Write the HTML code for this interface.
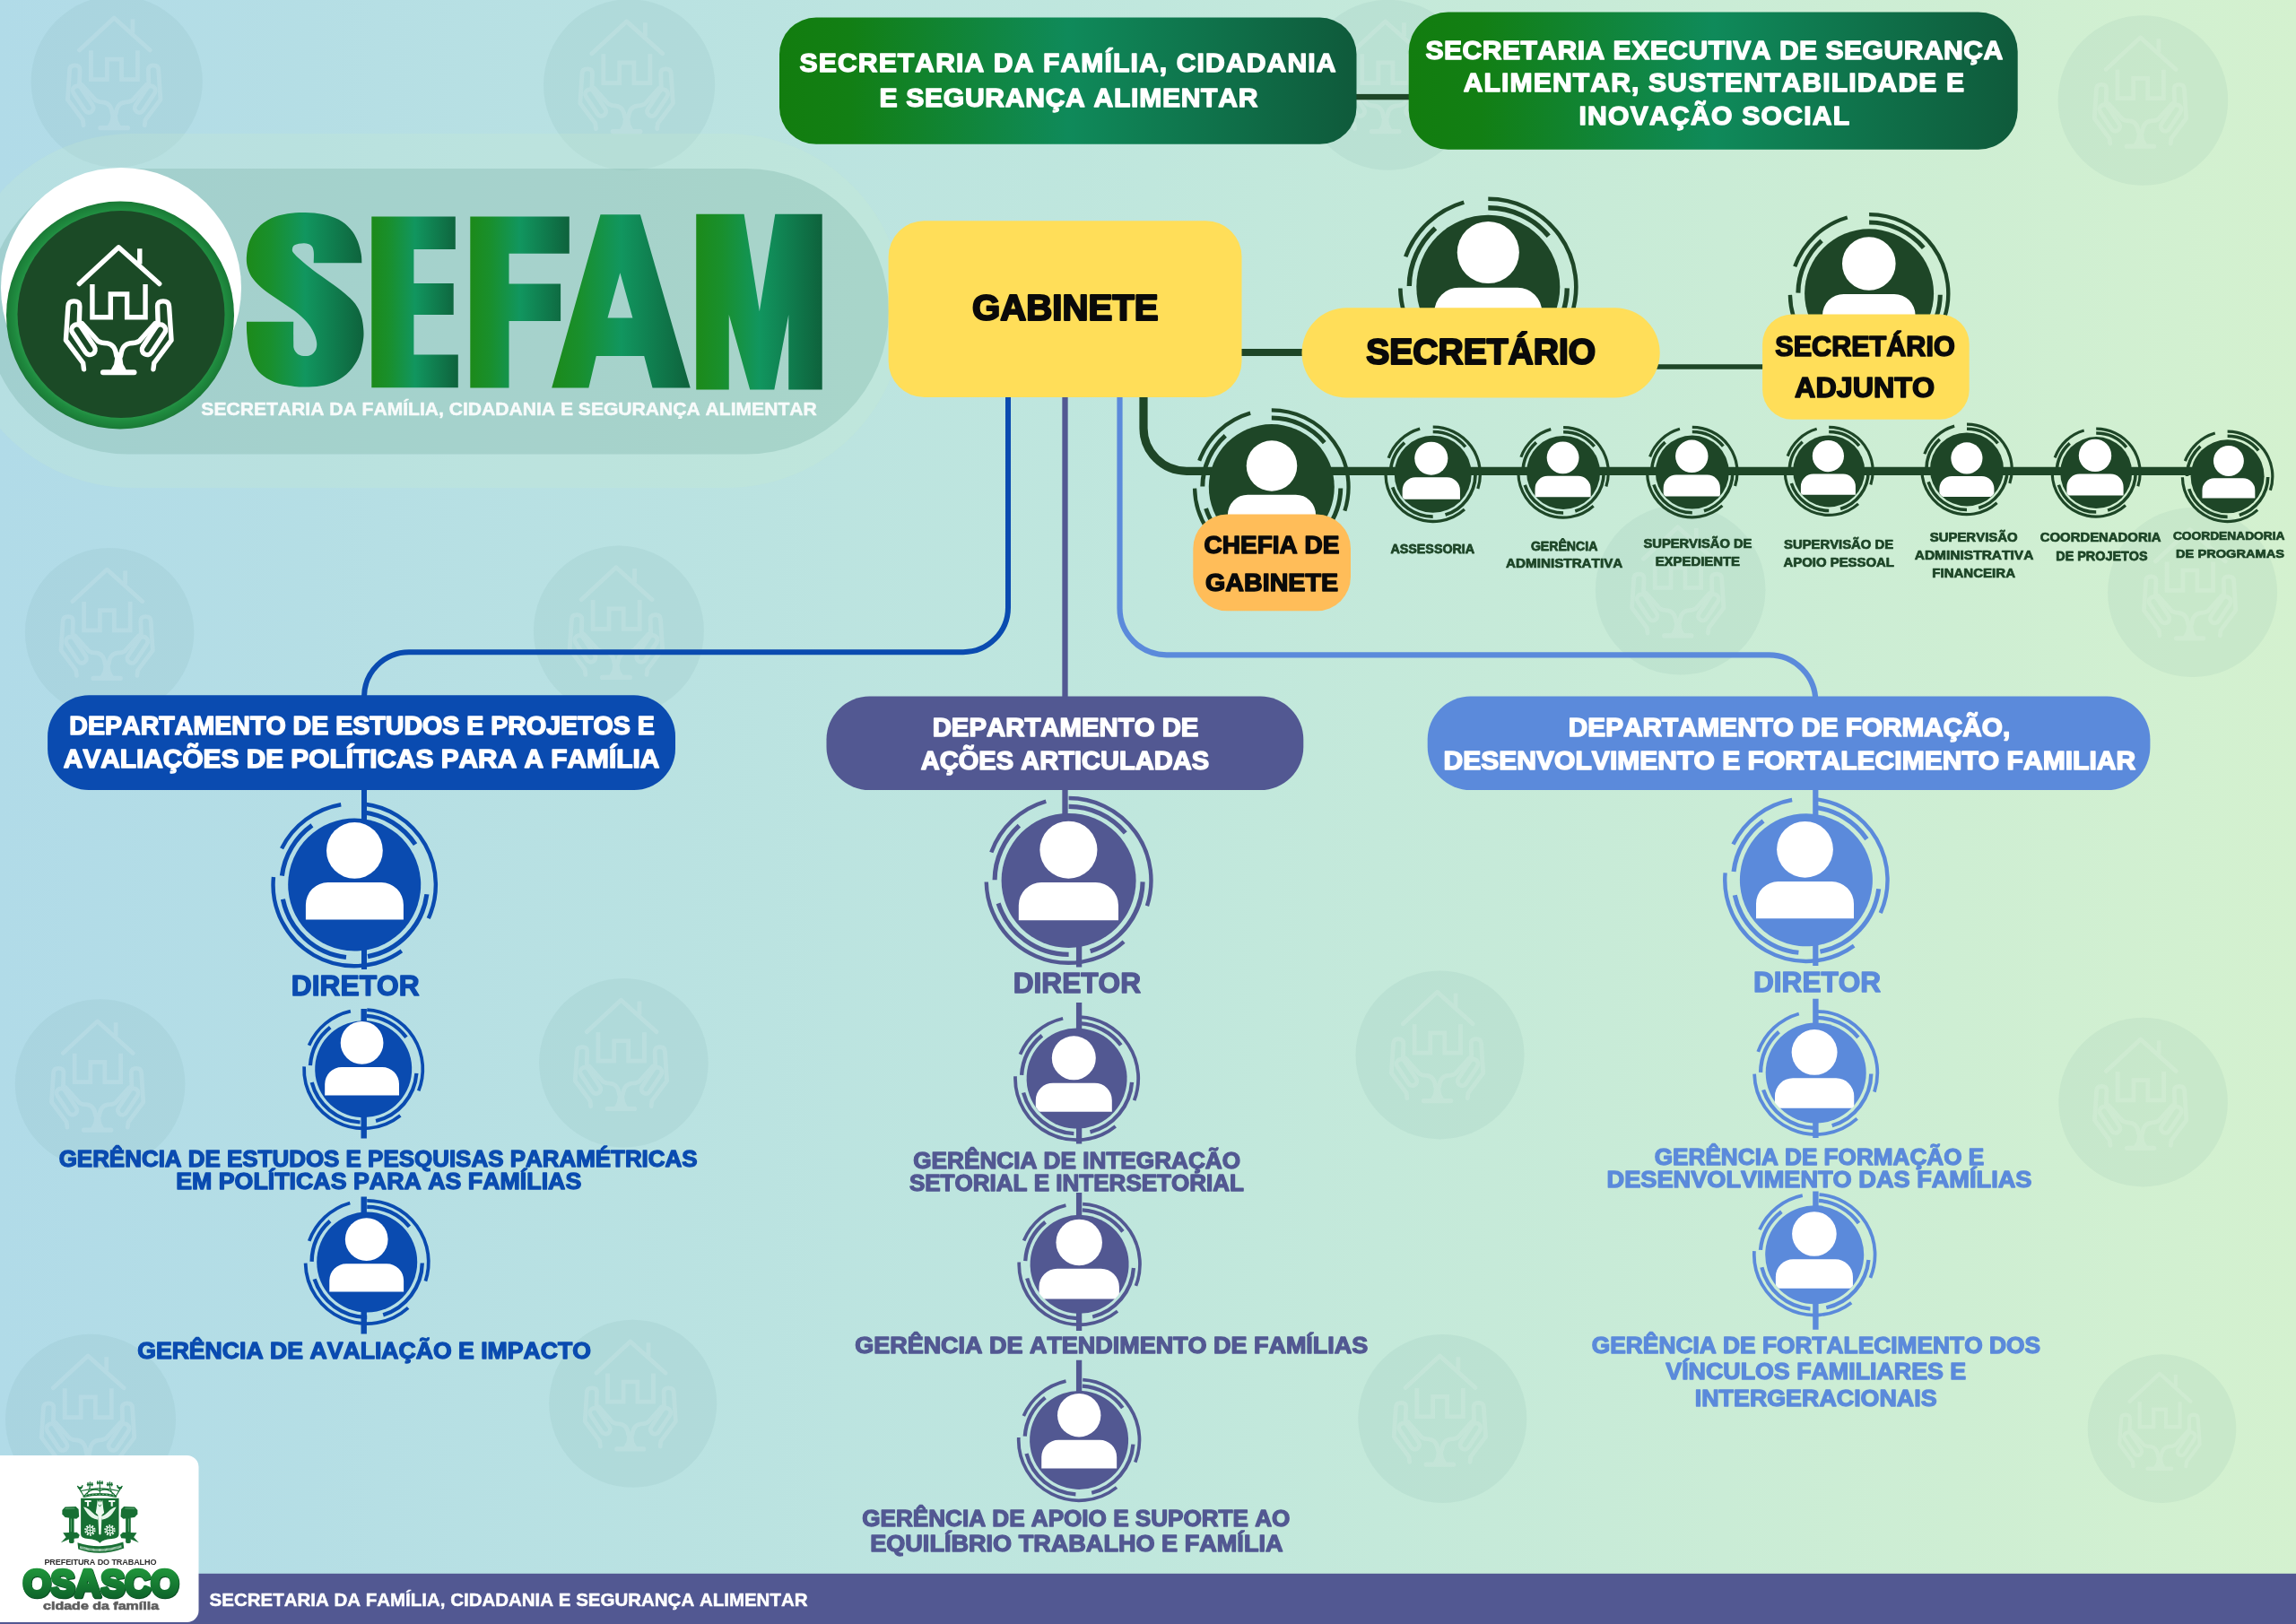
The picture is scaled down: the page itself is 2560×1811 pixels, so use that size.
<!DOCTYPE html>
<html lang="pt"><head><meta charset="utf-8"><title>SEFAM</title>
<style>
html,body{margin:0;padding:0;background:#c0e7dd}
body{width:2560px;height:1811px;overflow:hidden}
svg{display:block}
text{font-family:"Liberation Sans",sans-serif;font-weight:bold;font-kerning:none;white-space:pre}
</style></head><body>
<svg width="2560" height="1811" viewBox="0 0 2560 1811">
<defs>
<filter id="nf" filterUnits="userSpaceOnUse" x="0" y="0" width="2560" height="1811" color-interpolation-filters="sRGB"><feOffset dx="0" dy="0"/></filter>
<linearGradient id="bg" x1="0" x2="1" y1="0" y2="0"><stop offset="0" stop-color="#b1dbe8"/><stop offset="0.5" stop-color="#c0e7dd"/><stop offset="1" stop-color="#d4f1cf"/></linearGradient>
<linearGradient id="hg" x1="0" x2="1" y1="0" y2="0"><stop offset="0" stop-color="#127d0f"/><stop offset="0.12" stop-color="#127f14"/><stop offset="0.5" stop-color="#0f8a5a"/><stop offset="1" stop-color="#0f5a3b"/></linearGradient>
<linearGradient id="lg" x1="0" x2="1" y1="0" y2="0"><stop offset="0" stop-color="#1c8a1a"/><stop offset="0.2" stop-color="#198f2c"/><stop offset="0.5" stop-color="#11965f"/><stop offset="1" stop-color="#0e623c"/></linearGradient>
<linearGradient id="og" x1="0" x2="0" y1="0" y2="1"><stop offset="0" stop-color="#23a33f"/><stop offset="1" stop-color="#0b5a27"/></linearGradient>
<radialGradient id="rim" cx="0.5" cy="0.5" r="0.5"><stop offset="0.88" stop-color="#2b9a4c"/><stop offset="0.93" stop-color="#1f8b3f"/><stop offset="1" stop-color="#1a7a36"/></radialGradient>
<g id="fr"><circle r="100"/><g fill="none" stroke="currentColor"><path style="stroke-width:var(--wa)" d="M0 -122.5A122.5 122.5 0 0 1 116.5 37.85M81.97 91.04A122.5 122.5 0 0 1 -122.48 2.14M-115.11 -41.9A122.5 122.5 0 0 1 -33.77 -117.75"/><path style="stroke-width:var(--wb)" d="M0 -110A110 110 0 0 1 84.26 -70.71M109.98 1.92A110 110 0 0 1 32.16 105.19M0 110A110 110 0 0 1 -104.62 33.99M-110 -0.96A110 110 0 0 1 -73.6 -81.75"/></g></g>
<g id="pe" fill="#fff"><circle r="31.4"/><path d="M-54.5 77V60.5A24.8 24.8 0 0 1 -29.7 35.7H29.7A24.8 24.8 0 0 1 54.5 60.5V77Z"/></g>
<g id="ic" fill="none" stroke="currentColor" stroke-width="5.4" stroke-linecap="round" stroke-linejoin="round"><path d="M-43.94 -33.47 0.03 -74.3 45.56 -33.47"/><path stroke-linecap="butt" d="M23.58 -72.73 23.58 -55.46"/><path stroke-linecap="butt" stroke-linejoin="miter" d="M-29.28 -32.95 -29.28 3.69 -8.87 3.69 -8.87 -21.96 9.45 -21.96 9.45 3.69 29.86 3.69 29.86 -32.95"/><path d="M-38.7 61.78 L-39.54 54.98 L-58.8 29.33 L-56.29 -8.35 Q-55.97 -14.11 -49.69 -14.11 Q-43.1 -14.11 -43.31 -8.35 L-43.94 11.02"/><path d="M-41.74 14.57 L-27.08 36.56 A5.8 5.8 0 0 1 -36.71 43.05 L-51.37 21.06 A5.8 5.8 0 0 1 -41.74 14.57 Z"/><path d="M-40.8 10.49 L-23 30.38 Q-19.34 32.68 -13.06 32.68 Q-3.64 34.04 -2.27 47.13"/><path d="M38.76 61.78 L39.6 54.98 L58.86 29.33 L56.35 -8.35 Q56.03 -14.11 49.75 -14.11 Q43.16 -14.11 43.37 -8.35 L43.99 11.02"/><path d="M41.8 14.57 L27.14 36.56 A5.8 5.8 0 0 0 36.77 43.05 L51.43 21.06 A5.8 5.8 0 0 0 41.8 14.57 Z"/><path d="M40.85 10.49 L23.06 30.38 Q19.39 32.68 13.11 32.68 Q3.69 34.04 2.33 47.13"/><path fill="currentColor" stroke-width="2" d="M-2.27 43.99 2.33 43.99 4.22 56.55 7.36 62.31 -7.3 62.31 -4.16 56.55 Z"/><path stroke-width="6" d="M-17.24 65.13 17.3 65.13"/></g>
</defs>
<g filter="url(#nf)">
<rect width="2560" height="1811" fill="url(#bg)"/>
<g>
<g transform="translate(130.2 90.9)"><circle r="95.6" fill="#3d7f78" fill-opacity="0.068"/><g transform="translate(-3.02 -5.53) scale(0.88)" color="#ffffff" opacity="0.13"><use href="#ic"/></g></g>
<g transform="translate(701.6 94.8)"><circle r="95.6" fill="#3d7f78" fill-opacity="0.068"/><g transform="translate(-3.02 -5.53) scale(0.88)" color="#ffffff" opacity="0.13"><use href="#ic"/></g></g>
<g transform="translate(1547.6 94.8)"><circle r="95" fill="#3d7f78" fill-opacity="0.068"/><g transform="translate(-3 -5.5) scale(0.88)" color="#ffffff" opacity="0.13"><use href="#ic"/></g></g>
<g transform="translate(2389.4 112)"><circle r="94.8" fill="#3d7f78" fill-opacity="0.068"/><g transform="translate(-2.99 -5.49) scale(0.87)" color="#ffffff" opacity="0.13"><use href="#ic"/></g></g>
<g transform="translate(122.1 705.2)"><circle r="94.2" fill="#3d7f78" fill-opacity="0.068"/><g transform="translate(-2.97 -5.45) scale(0.87)" color="#ffffff" opacity="0.13"><use href="#ic"/></g></g>
<g transform="translate(689.9 703.6)"><circle r="95" fill="#3d7f78" fill-opacity="0.068"/><g transform="translate(-3 -5.5) scale(0.88)" color="#ffffff" opacity="0.13"><use href="#ic"/></g></g>
<g transform="translate(1873.7 657.8)"><circle r="94.8" fill="#3d7f78" fill-opacity="0.068"/><g transform="translate(-2.99 -5.49) scale(0.87)" color="#ffffff" opacity="0.13"><use href="#ic"/></g></g>
<g transform="translate(2444.6 660.6)"><circle r="94.5" fill="#3d7f78" fill-opacity="0.068"/><g transform="translate(-2.98 -5.47) scale(0.87)" color="#ffffff" opacity="0.13"><use href="#ic"/></g></g>
<g transform="translate(111.6 1209)"><circle r="94.8" fill="#3d7f78" fill-opacity="0.068"/><g transform="translate(-2.99 -5.49) scale(0.87)" color="#ffffff" opacity="0.13"><use href="#ic"/></g></g>
<g transform="translate(695.4 1185.3)"><circle r="94.3" fill="#3d7f78" fill-opacity="0.068"/><g transform="translate(-2.98 -5.46) scale(0.87)" color="#ffffff" opacity="0.13"><use href="#ic"/></g></g>
<g transform="translate(1605.5 1176.4)"><circle r="94" fill="#3d7f78" fill-opacity="0.068"/><g transform="translate(-2.97 -5.44) scale(0.87)" color="#ffffff" opacity="0.13"><use href="#ic"/></g></g>
<g transform="translate(2389.6 1229.1)"><circle r="94.3" fill="#3d7f78" fill-opacity="0.068"/><g transform="translate(-2.98 -5.46) scale(0.87)" color="#ffffff" opacity="0.13"><use href="#ic"/></g></g>
<g transform="translate(101 1582.8)"><circle r="95" fill="#3d7f78" fill-opacity="0.068"/><g transform="translate(-3 -5.5) scale(0.88)" color="#ffffff" opacity="0.13"><use href="#ic"/></g></g>
<g transform="translate(705.7 1565.3)"><circle r="93.5" fill="#3d7f78" fill-opacity="0.068"/><g transform="translate(-2.95 -5.41) scale(0.86)" color="#ffffff" opacity="0.13"><use href="#ic"/></g></g>
<g transform="translate(1608.3 1582)"><circle r="94" fill="#3d7f78" fill-opacity="0.068"/><g transform="translate(-2.97 -5.44) scale(0.87)" color="#ffffff" opacity="0.13"><use href="#ic"/></g></g>
<g transform="translate(2410.5 1593.1)"><circle r="82.8" fill="#3d7f78" fill-opacity="0.068"/><g transform="translate(-2.61 -4.79) scale(0.76)" color="#ffffff" opacity="0.13"><use href="#ic"/></g></g>
</g>
<rect x="-50" y="149" width="1058" height="395" rx="197.5" fill="#c8ecd0" fill-opacity="0.25"/>
<rect x="-16" y="188" width="1007" height="318.5" rx="159.2" fill="#6da79b" fill-opacity="0.27"/>
<circle cx="135" cy="321" r="134" fill="#fff"/>
<circle cx="134" cy="351.5" r="127" fill="url(#rim)"/>
<circle cx="135" cy="350.5" r="115.5" fill="#1b4a26"/>
<g transform="translate(135 350)" color="#fff"><g transform="translate(-2.8 0)"><use href="#ic"/></g></g>
<path d="M403.36 293.18C403.25 291.53 403.47 287.34 402.69 283.25C401.92 279.17 400.71 273.33 398.72 268.69C396.74 264.06 394.31 259.42 390.78 255.45C387.25 251.48 382.61 247.62 377.54 244.86C372.46 242.1 366.5 240.23 360.33 238.9C354.15 237.58 347.09 237.03 340.47 236.92C333.85 236.81 327.01 237.14 320.61 238.24C314.21 239.34 307.59 240.89 302.07 243.54C296.55 246.18 291.48 249.93 287.51 254.13C283.54 258.32 280.34 263.4 278.24 268.69C276.14 273.99 275.26 280.83 274.93 285.9C274.6 290.98 275.04 294.95 276.25 299.14C277.47 303.34 279.23 307.09 282.21 311.06C285.19 315.03 289.27 319 294.13 322.97C298.98 326.95 305.6 330.92 311.34 334.89C317.08 338.86 323.48 342.83 328.55 346.81C333.63 350.78 338.26 354.75 341.79 358.72C345.32 362.69 347.86 366.89 349.73 370.64C351.61 374.39 352.6 378.14 353.04 381.23C353.49 384.32 353.27 386.86 352.38 389.17C351.5 391.49 349.73 393.81 347.75 395.13C345.76 396.46 343 397.12 340.47 397.12C337.93 397.12 334.62 396.46 332.52 395.13C330.43 393.81 328.77 391.49 327.89 389.17C327.01 386.86 327.34 386.3 327.23 381.23C327.12 376.15 327.23 362.47 327.23 358.72L274.93 358.72C275 361.15 274.89 367.77 275.33 373.29C275.77 378.8 276.21 386.08 277.58 391.82C278.95 397.56 280.78 403.07 283.54 407.71C286.29 412.34 289.71 416.31 294.13 419.62C298.54 422.93 304.28 425.69 310.02 427.57C315.75 429.44 323.48 430.22 328.55 430.88C333.63 431.54 335.61 431.65 340.47 431.54C345.32 431.43 351.94 431.32 357.68 430.22C363.42 429.11 369.59 427.57 374.89 424.92C380.19 422.27 385.26 418.74 389.45 414.33C393.65 409.92 397.51 403.96 400.05 398.44C402.58 392.92 403.8 386.3 404.68 381.23C405.56 376.15 405.67 372.84 405.34 367.99C405.01 363.13 404.24 356.96 402.69 352.1C401.15 347.25 399.16 343.05 396.07 338.86C392.98 334.67 388.79 330.92 384.16 326.95C379.52 322.97 374.01 319.22 368.27 315.03C362.53 310.84 355.25 305.98 349.73 301.79C344.22 297.6 338.92 293.18 335.17 289.87C331.42 286.56 328.77 283.92 327.23 281.93C325.68 279.95 325.68 279.39 325.9 277.96C326.12 276.52 326.34 274.43 328.55 273.33C330.76 272.22 336.05 271.23 339.14 271.34C342.23 271.45 345.32 272.44 347.09 273.99C348.85 275.53 349.29 277.41 349.73 280.61C350.18 283.81 349.73 291.09 349.73 293.18Z" fill="url(#lg)"/>
<path d="M414.3 241.5L507.8 241.5L507.8 278L461.4 278L461.4 316L505.7 316L505.7 351L461.4 351L461.4 395.5L510.8 395.5L510.8 432.3L414.3 432.3Z" fill="url(#lg)"/>
<path d="M524.3 241.5L634.8 241.5L634.8 282.7L567.5 282.7L567.5 316.4L625.1 316.4L625.1 358L567.5 358L567.5 432.6L524.3 432.6Z" fill="url(#lg)"/>
<path d="M615.2 432.6L669.5 239.3L713.9 239.3L769.7 432.6L727.5 432.6L718.2 397L664.8 397L656.4 432.6ZM691.4 304.3L705.4 354.5L677.5 354.5Z" fill="url(#lg)" fill-rule="evenodd"/>
<path d="M776.24 238.73L829.62 238.73L846.85 347.35L864.27 238.73L916.71 238.73L916.71 434.44L879.25 434.44L879.25 351.1L863.33 434.44L836.17 434.44L812.76 351.1L812.76 434.44L776.24 434.44Z" fill="url(#lg)"/>
<text transform="matrix(0.2110 0 0 0.2109 224.35 462.65)" font-size="100" fill="#fff" stroke="#fff" stroke-width="0.5" stroke-linejoin="round" vector-effect="non-scaling-stroke" opacity="0.93">SECRETARIA DA FAMÍLIA, CIDADANIA E SEGURANÇA ALIMENTAR</text>
<rect x="1505" y="104.9" width="75" height="6.4" fill="#1e4627"/>
<rect x="869" y="19.6" width="643.5" height="141.2" rx="41" fill="url(#hg)"/>
<rect x="1570.7" y="13.5" width="679" height="153.3" rx="44" fill="url(#hg)"/>
<text transform="matrix(0.3010 0 0 0.2895 891.6 80.1)" font-size="100" fill="#fff" stroke="#fff" stroke-width="1.4" stroke-linejoin="round" vector-effect="non-scaling-stroke" letter-spacing="3.71">SECRETARIA DA FAMÍLIA, CIDADANIA</text>
<text transform="matrix(0.3010 0 0 0.2895 980.4 119)" font-size="100" fill="#fff" stroke="#fff" stroke-width="1.4" stroke-linejoin="round" vector-effect="non-scaling-stroke" letter-spacing="2.35">E SEGURANÇA ALIMENTAR</text>
<text transform="matrix(0.3010 0 0 0.2895 1589.4 65.5)" font-size="100" fill="#fff" stroke="#fff" stroke-width="1.4" stroke-linejoin="round" vector-effect="non-scaling-stroke" letter-spacing="1.59">SECRETARIA EXECUTIVA DE SEGURANÇA</text>
<text transform="matrix(0.3010 0 0 0.2895 1631.7 102.1)" font-size="100" fill="#fff" stroke="#fff" stroke-width="1.4" stroke-linejoin="round" vector-effect="non-scaling-stroke" letter-spacing="3.78">ALIMENTAR, SUSTENTABILIDADE E</text>
<text transform="matrix(0.3010 0 0 0.2895 1760.4 138.6)" font-size="100" fill="#fff" stroke="#fff" stroke-width="1.4" stroke-linejoin="round" vector-effect="non-scaling-stroke" letter-spacing="4.17">INOVAÇÃO SOCIAL</text>
<path d="M1124 440V677A50 50 0 0 1 1074 727.2H456A50 50 0 0 0 406 777.2V1081" fill="none" stroke="#0a4bb0" stroke-width="6"/>
<path d="M405.7 1125V1269.5M405.7 1334.4V1487.6" fill="none" stroke="#0a4bb0" stroke-width="6.4"/>
<path d="M1187.5 440V910" fill="none" stroke="#525892" stroke-width="6.3"/>
<path d="M1203.1 1040V1078.4M1203.1 1118V1275.5M1203.1 1330V1484M1203.1 1516.8V1560" fill="none" stroke="#525892" stroke-width="6.3"/>
<path d="M1248.5 440V678A52 52 0 0 0 1300.5 730.3H1972.3A52 52 0 0 1 2024.3 782.3V1077" fill="none" stroke="#5b8adb" stroke-width="6.2"/>
<path d="M2024.4 1113.7V1269M2024.4 1328.5V1482.8" fill="none" stroke="#5b8adb" stroke-width="6.4"/>
<path d="M1275 440V477.5A48 48 0 0 0 1323 525.3H2450" fill="none" stroke="#1e4627" stroke-width="9.2"/>
<path d="M1380 393H1460" fill="none" stroke="#1e4627" stroke-width="8.2"/>
<path d="M1845 409H1970" fill="none" stroke="#1e4627" stroke-width="5.7"/>
<g color="#1e4627" fill="#1e4627" style="--wa:5.76;--wb:6.71"><g transform="translate(1659.3 319.8) rotate(0) scale(0.8)"><use href="#fr"/></g>
<clipPath id="c1"><circle cx="1659.3" cy="319.8" r="79.8"/></clipPath>
<g clip-path="url(#c1)"><g transform="translate(1659.3 281.5) scale(1.1)"><use href="#pe"/></g></g></g>
<g color="#1e4627" fill="#1e4627" style="--wa:6.05;--wb:7.01"><g transform="translate(2084.1 327.3) rotate(0) scale(0.72)"><use href="#fr"/></g>
<clipPath id="c2"><circle cx="2084.1" cy="327.3" r="71.6"/></clipPath>
<g clip-path="url(#c2)"><g transform="translate(2083.8 294) scale(0.95)"><use href="#pe"/></g></g></g>
<g color="#1e4627" fill="#1e4627" style="--wa:6.13;--wb:7.09"><g transform="translate(1417.8 543.1) rotate(0) scale(0.7)"><use href="#fr"/></g>
<clipPath id="c3"><circle cx="1417.8" cy="543.1" r="69.6"/></clipPath>
<g clip-path="url(#c3)"><g transform="translate(1418 519.5) scale(0.9)"><use href="#pe"/></g></g></g>
<g color="#1e4627" fill="#1e4627" style="--wa:7.64;--wb:8.62"><g transform="translate(1597.7 528.8) rotate(0) scale(0.43)"><use href="#fr"/></g>
<clipPath id="c4"><circle cx="1597.7" cy="528.8" r="42.7"/></clipPath>
<g clip-path="url(#c4)"><g transform="translate(1595.8 511.2) scale(0.59)"><use href="#pe"/></g></g></g>
<g color="#1e4627" fill="#1e4627" style="--wa:7.76;--wb:8.74"><g transform="translate(1743.1 526.9) rotate(0) scale(0.41)"><use href="#fr"/></g>
<clipPath id="c5"><circle cx="1743.1" cy="526.9" r="41.2"/></clipPath>
<g clip-path="url(#c5)"><g transform="translate(1742.6 510.4) scale(0.57)"><use href="#pe"/></g></g></g>
<g color="#1e4627" fill="#1e4627" style="--wa:7.82;--wb:8.8"><g transform="translate(1886.8 526.6) rotate(0) scale(0.41)"><use href="#fr"/></g>
<clipPath id="c6"><circle cx="1886.8" cy="526.6" r="40.5"/></clipPath>
<g clip-path="url(#c6)"><g transform="translate(1886.3 508.8) scale(0.58)"><use href="#pe"/></g></g></g>
<g color="#1e4627" fill="#1e4627" style="--wa:7.87;--wb:8.85"><g transform="translate(2039.2 525.4) rotate(0) scale(0.4)"><use href="#fr"/></g>
<clipPath id="c7"><circle cx="2039.2" cy="525.4" r="39.9"/></clipPath>
<g clip-path="url(#c7)"><g transform="translate(2038.4 508.6) scale(0.56)"><use href="#pe"/></g></g></g>
<g color="#1e4627" fill="#1e4627" style="--wa:7.79;--wb:8.77"><g transform="translate(2193 523.4) rotate(0) scale(0.41)"><use href="#fr"/></g>
<clipPath id="c8"><circle cx="2193" cy="523.4" r="40.9"/></clipPath>
<g clip-path="url(#c8)"><g transform="translate(2192.9 510.9) scale(0.56)"><use href="#pe"/></g></g></g>
<g color="#1e4627" fill="#1e4627" style="--wa:7.87;--wb:8.84"><g transform="translate(2337.2 527.1) rotate(0) scale(0.4)"><use href="#fr"/></g>
<clipPath id="c9"><circle cx="2337.2" cy="527.1" r="40"/></clipPath>
<g clip-path="url(#c9)"><g transform="translate(2336 507.9) scale(0.58)"><use href="#pe"/></g></g></g>
<g color="#1e4627" fill="#1e4627" style="--wa:7.82;--wb:8.8"><g transform="translate(2483.6 531.3) rotate(0) scale(0.41)"><use href="#fr"/></g>
<clipPath id="c10"><circle cx="2483.6" cy="531.3" r="40.5"/></clipPath>
<g clip-path="url(#c10)"><g transform="translate(2484.9 514) scale(0.54)"><use href="#pe"/></g></g></g>
<g color="#0a4bb0" fill="#0a4bb0" style="--wa:5.98;--wb:6.93"><g transform="translate(395.2 986.6) rotate(6.5) scale(0.74)"><use href="#fr"/></g>
<clipPath id="c11"><circle cx="395.2" cy="986.6" r="73.6"/></clipPath>
<g clip-path="url(#c11)"><g transform="translate(395.4 948.4) scale(1)"><use href="#pe"/></g></g></g>
<g color="#0a4bb0" fill="#0a4bb0" style="--wa:6.86;--wb:7.83"><g transform="translate(405.2 1192.2) rotate(3.5) scale(0.54)"><use href="#fr"/></g>
<clipPath id="c12"><circle cx="405.2" cy="1192.2" r="54.2"/></clipPath>
<g clip-path="url(#c12)"><g transform="translate(403.6 1162.9) scale(0.76)"><use href="#pe"/></g></g></g>
<g color="#0a4bb0" fill="#0a4bb0" style="--wa:6.77;--wb:7.74"><g transform="translate(409.2 1407.4) rotate(0) scale(0.56)"><use href="#fr"/></g>
<clipPath id="c13"><circle cx="409.2" cy="1407.4" r="55.9"/></clipPath>
<g clip-path="url(#c13)"><g transform="translate(408.7 1382.1) scale(0.76)"><use href="#pe"/></g></g></g>
<g color="#525892" fill="#525892" style="--wa:5.91;--wb:6.86"><g transform="translate(1191.6 981.9) rotate(0) scale(0.75)"><use href="#fr"/></g>
<clipPath id="c14"><circle cx="1191.6" cy="981.9" r="75.4"/></clipPath>
<g clip-path="url(#c14)"><g transform="translate(1191.4 947.7) scale(1.02)"><use href="#pe"/></g></g></g>
<g color="#525892" fill="#525892" style="--wa:6.78;--wb:7.75"><g transform="translate(1200.6 1202.6) rotate(3) scale(0.56)"><use href="#fr"/></g>
<clipPath id="c15"><circle cx="1200.6" cy="1202.6" r="55.7"/></clipPath>
<g clip-path="url(#c15)"><g transform="translate(1197.3 1179.8) scale(0.78)"><use href="#pe"/></g></g></g>
<g color="#525892" fill="#525892" style="--wa:6.79;--wb:7.76"><g transform="translate(1203.6 1409.8) rotate(3) scale(0.55)"><use href="#fr"/></g>
<clipPath id="c16"><circle cx="1203.6" cy="1409.8" r="55.4"/></clipPath>
<g clip-path="url(#c16)"><g transform="translate(1203.2 1385.4) scale(0.82)"><use href="#pe"/></g></g></g>
<g color="#525892" fill="#525892" style="--wa:6.79;--wb:7.76"><g transform="translate(1203.1 1605.9) rotate(3.5) scale(0.55)"><use href="#fr"/></g>
<clipPath id="c17"><circle cx="1203.1" cy="1605.9" r="55.4"/></clipPath>
<g clip-path="url(#c17)"><g transform="translate(1203.2 1578.2) scale(0.77)"><use href="#pe"/></g></g></g>
<g color="#5b8adb" fill="#5b8adb" style="--wa:5.95;--wb:6.9"><g transform="translate(2013.9 981.3) rotate(6) scale(0.74)"><use href="#fr"/></g>
<clipPath id="c18"><circle cx="2013.9" cy="981.3" r="74.3"/></clipPath>
<g clip-path="url(#c18)"><g transform="translate(2012.5 947.3) scale(1)"><use href="#pe"/></g></g></g>
<g color="#5b8adb" fill="#5b8adb" style="--wa:6.73;--wb:7.7"><g transform="translate(2024.7 1196.4) rotate(0) scale(0.56)"><use href="#fr"/></g>
<clipPath id="c19"><circle cx="2024.7" cy="1196.4" r="56.5"/></clipPath>
<g clip-path="url(#c19)"><g transform="translate(2023.1 1173.4) scale(0.81)"><use href="#pe"/></g></g></g>
<g color="#5b8adb" fill="#5b8adb" style="--wa:6.82;--wb:7.79"><g transform="translate(2023.2 1399.2) rotate(4.5) scale(0.55)"><use href="#fr"/></g>
<clipPath id="c20"><circle cx="2023.2" cy="1399.2" r="55"/></clipPath>
<g clip-path="url(#c20)"><g transform="translate(2022.9 1376) scale(0.79)"><use href="#pe"/></g></g></g>
<rect x="990.6" y="246.3" width="393.9" height="196.7" rx="40" fill="#ffde59"/>
<rect x="1451.5" y="343.3" width="399.2" height="100.3" rx="50" fill="#ffde59"/>
<rect x="1965.1" y="350.4" width="230.6" height="117.3" rx="33" fill="#ffde59"/>
<rect x="1330.3" y="573.5" width="175.7" height="107.8" rx="38" fill="#ffbd59"/>
<rect x="53.1" y="775.2" width="699.9" height="105.7" rx="46" fill="#0a4bb0"/>
<rect x="921.5" y="776.6" width="531.8" height="104.5" rx="48" fill="#525892"/>
<rect x="1591.7" y="776.6" width="805.7" height="104.5" rx="48" fill="#5b8adb"/>
<text transform="matrix(0.4021 0 0 0.4073 1083.9 357.2)" font-size="100" fill="#0a0a0a" stroke="#0a0a0a" stroke-width="2.2" stroke-linejoin="round" vector-effect="non-scaling-stroke">GABINETE</text>
<text transform="matrix(0.3907 0 0 0.4073 1523.2 406.4)" font-size="100" fill="#0a0a0a" stroke="#0a0a0a" stroke-width="2.2" stroke-linejoin="round" vector-effect="non-scaling-stroke">SECRETÁRIO</text>
<text transform="matrix(0.3058 0 0 0.3127 1979.3 397.2)" font-size="100" fill="#0a0a0a" stroke="#0a0a0a" stroke-width="1.6" stroke-linejoin="round" vector-effect="non-scaling-stroke">SECRETÁRIO</text>
<text transform="matrix(0.3228 0 0 0.3127 2001.1 442.7)" font-size="100" fill="#0a0a0a" stroke="#0a0a0a" stroke-width="1.6" stroke-linejoin="round" vector-effect="non-scaling-stroke">ADJUNTO</text>
<text transform="matrix(0.2800 0 0 0.2836 1342.55 617.45)" font-size="100" fill="#0a0a0a" stroke="#0a0a0a" stroke-width="1.5" stroke-linejoin="round" vector-effect="non-scaling-stroke">CHEFIA DE</text>
<text transform="matrix(0.2866 0 0 0.2836 1344.05 659.05)" font-size="100" fill="#0a0a0a" stroke="#0a0a0a" stroke-width="1.5" stroke-linejoin="round" vector-effect="non-scaling-stroke">GABINETE</text>
<text transform="matrix(0.1429 0 0 0.1491 1550.47 616.92)" font-size="100" fill="#1d4527" stroke="#1d4527" stroke-width="0.75" stroke-linejoin="round" vector-effect="non-scaling-stroke">ASSESSORIA</text>
<text transform="matrix(0.1412 0 0 0.1418 1706.88 613.83)" font-size="100" fill="#1d4527" stroke="#1d4527" stroke-width="0.75" stroke-linejoin="round" vector-effect="non-scaling-stroke">GERÊNCIA</text>
<text transform="matrix(0.1523 0 0 0.1418 1679.08 633.42)" font-size="100" fill="#1d4527" stroke="#1d4527" stroke-width="0.75" stroke-linejoin="round" vector-effect="non-scaling-stroke">ADMINISTRATIVA</text>
<text transform="matrix(0.1471 0 0 0.1418 1832.47 611.02)" font-size="100" fill="#1d4527" stroke="#1d4527" stroke-width="0.75" stroke-linejoin="round" vector-effect="non-scaling-stroke">SUPERVISÃO DE</text>
<text transform="matrix(0.1490 0 0 0.1418 1845.67 630.52)" font-size="100" fill="#1d4527" stroke="#1d4527" stroke-width="0.75" stroke-linejoin="round" vector-effect="non-scaling-stroke">EXPEDIENTE</text>
<text transform="matrix(0.1485 0 0 0.1404 1989.08 612.02)" font-size="100" fill="#1d4527" stroke="#1d4527" stroke-width="0.75" stroke-linejoin="round" vector-effect="non-scaling-stroke">SUPERVISÃO DE</text>
<text transform="matrix(0.1490 0 0 0.1404 1988.58 631.52)" font-size="100" fill="#1d4527" stroke="#1d4527" stroke-width="0.75" stroke-linejoin="round" vector-effect="non-scaling-stroke">APOIO PESSOAL</text>
<text transform="matrix(0.1495 0 0 0.1418 2151.68 604.33)" font-size="100" fill="#1d4527" stroke="#1d4527" stroke-width="0.75" stroke-linejoin="round" vector-effect="non-scaling-stroke">SUPERVISÃO</text>
<text transform="matrix(0.1552 0 0 0.1418 2134.68 624.33)" font-size="100" fill="#1d4527" stroke="#1d4527" stroke-width="0.75" stroke-linejoin="round" vector-effect="non-scaling-stroke">ADMINISTRATIVA</text>
<text transform="matrix(0.1505 0 0 0.1418 2154.28 644.12)" font-size="100" fill="#1d4527" stroke="#1d4527" stroke-width="0.75" stroke-linejoin="round" vector-effect="non-scaling-stroke">FINANCEIRA</text>
<text transform="matrix(0.1489 0 0 0.1462 2274.78 604.02)" font-size="100" fill="#1d4527" stroke="#1d4527" stroke-width="0.75" stroke-linejoin="round" vector-effect="non-scaling-stroke">COORDENADORIA</text>
<text transform="matrix(0.1440 0 0 0.1462 2292.28 625.02)" font-size="100" fill="#1d4527" stroke="#1d4527" stroke-width="0.75" stroke-linejoin="round" vector-effect="non-scaling-stroke">DE PROJETOS</text>
<text transform="matrix(0.1377 0 0 0.1331 2422.88 602.33)" font-size="100" fill="#1d4527" stroke="#1d4527" stroke-width="0.75" stroke-linejoin="round" vector-effect="non-scaling-stroke">COORDENADORIA</text>
<text transform="matrix(0.1462 0 0 0.1331 2426.07 621.83)" font-size="100" fill="#1d4527" stroke="#1d4527" stroke-width="0.75" stroke-linejoin="round" vector-effect="non-scaling-stroke">DE PROGRAMAS</text>
<text transform="matrix(0.2858 0 0 0.2909 77.35 819.15)" font-size="100" fill="#fff" stroke="#fff" stroke-width="1.5" stroke-linejoin="round" vector-effect="non-scaling-stroke">DEPARTAMENTO DE ESTUDOS E PROJETOS E</text>
<text transform="matrix(0.2983 0 0 0.2909 70.85 855.75)" font-size="100" fill="#fff" stroke="#fff" stroke-width="1.5" stroke-linejoin="round" vector-effect="non-scaling-stroke">AVALIAÇÕES DE POLÍTICAS PARA A FAMÍLIA</text>
<text transform="matrix(0.2936 0 0 0.2909 1039.65 821.45)" font-size="100" fill="#fff" stroke="#fff" stroke-width="1.5" stroke-linejoin="round" vector-effect="non-scaling-stroke">DEPARTAMENTO DE</text>
<text transform="matrix(0.2910 0 0 0.2909 1026.65 858.05)" font-size="100" fill="#fff" stroke="#fff" stroke-width="1.5" stroke-linejoin="round" vector-effect="non-scaling-stroke">AÇÕES ARTICULADAS</text>
<text transform="matrix(0.2976 0 0 0.2909 1748.85 821.45)" font-size="100" fill="#fff" stroke="#fff" stroke-width="1.5" stroke-linejoin="round" vector-effect="non-scaling-stroke">DEPARTAMENTO DE FORMAÇÃO,</text>
<text transform="matrix(0.3008 0 0 0.2909 1609.45 858.05)" font-size="100" fill="#fff" stroke="#fff" stroke-width="1.5" stroke-linejoin="round" vector-effect="non-scaling-stroke">DESENVOLVIMENTO E FORTALECIMENTO FAMILIAR</text>
<text transform="matrix(0.3177 0 0 0.3164 324.78 1109.62)" font-size="100" fill="#0a4bb0" stroke="#0a4bb0" stroke-width="1.35" stroke-linejoin="round" vector-effect="non-scaling-stroke">DIRETOR</text>
<text transform="matrix(0.2595 0 0 0.2567 65.67 1300.73)" font-size="100" fill="#0a4bb0" stroke="#0a4bb0" stroke-width="1.35" stroke-linejoin="round" vector-effect="non-scaling-stroke">GERÊNCIA DE ESTUDOS E PESQUISAS PARAMÉTRICAS</text>
<text transform="matrix(0.2678 0 0 0.2567 196.18 1326.42)" font-size="100" fill="#0a4bb0" stroke="#0a4bb0" stroke-width="1.35" stroke-linejoin="round" vector-effect="non-scaling-stroke">EM POLÍTICAS PARA AS FAMÍLIAS</text>
<text transform="matrix(0.2663 0 0 0.2567 153.18 1514.62)" font-size="100" fill="#0a4bb0" stroke="#0a4bb0" stroke-width="1.35" stroke-linejoin="round" vector-effect="non-scaling-stroke">GERÊNCIA DE AVALIAÇÃO E IMPACTO</text>
<text transform="matrix(0.3166 0 0 0.3164 1129.67 1107.03)" font-size="100" fill="#525892" stroke="#525892" stroke-width="1.35" stroke-linejoin="round" vector-effect="non-scaling-stroke">DIRETOR</text>
<text transform="matrix(0.2618 0 0 0.2567 1018.27 1303.42)" font-size="100" fill="#525892" stroke="#525892" stroke-width="1.35" stroke-linejoin="round" vector-effect="non-scaling-stroke">GERÊNCIA DE INTEGRAÇÃO</text>
<text transform="matrix(0.2604 0 0 0.2567 1013.88 1327.62)" font-size="100" fill="#525892" stroke="#525892" stroke-width="1.35" stroke-linejoin="round" vector-effect="non-scaling-stroke">SETORIAL E INTERSETORIAL</text>
<text transform="matrix(0.2696 0 0 0.2567 953.27 1508.83)" font-size="100" fill="#525892" stroke="#525892" stroke-width="1.35" stroke-linejoin="round" vector-effect="non-scaling-stroke">GERÊNCIA DE ATENDIMENTO DE FAMÍLIAS</text>
<text transform="matrix(0.2612 0 0 0.2567 961.27 1702.42)" font-size="100" fill="#525892" stroke="#525892" stroke-width="1.35" stroke-linejoin="round" vector-effect="non-scaling-stroke">GERÊNCIA DE APOIO E SUPORTE AO</text>
<text transform="matrix(0.2710 0 0 0.2567 970.17 1729.83)" font-size="100" fill="#525892" stroke="#525892" stroke-width="1.35" stroke-linejoin="round" vector-effect="non-scaling-stroke">EQUILÍBRIO TRABALHO E FAMÍLIA</text>
<text transform="matrix(0.3161 0 0 0.3164 1954.97 1105.83)" font-size="100" fill="#5b8adb" stroke="#5b8adb" stroke-width="1.35" stroke-linejoin="round" vector-effect="non-scaling-stroke">DIRETOR</text>
<text transform="matrix(0.2615 0 0 0.2567 1844.77 1299.23)" font-size="100" fill="#5b8adb" stroke="#5b8adb" stroke-width="1.35" stroke-linejoin="round" vector-effect="non-scaling-stroke">GERÊNCIA DE FORMAÇÃO E</text>
<text transform="matrix(0.2717 0 0 0.2567 1791.58 1324.12)" font-size="100" fill="#5b8adb" stroke="#5b8adb" stroke-width="1.35" stroke-linejoin="round" vector-effect="non-scaling-stroke">DESENVOLVIMENTO DAS FAMÍLIAS</text>
<text transform="matrix(0.2633 0 0 0.2567 1774.77 1509.23)" font-size="100" fill="#5b8adb" stroke="#5b8adb" stroke-width="1.35" stroke-linejoin="round" vector-effect="non-scaling-stroke">GERÊNCIA DE FORTALECIMENTO DOS</text>
<text transform="matrix(0.2680 0 0 0.2567 1857.27 1538.12)" font-size="100" fill="#5b8adb" stroke="#5b8adb" stroke-width="1.35" stroke-linejoin="round" vector-effect="non-scaling-stroke">VÍNCULOS FAMILIARES E</text>
<text transform="matrix(0.2684 0 0 0.2567 1889.77 1568.23)" font-size="100" fill="#5b8adb" stroke="#5b8adb" stroke-width="1.35" stroke-linejoin="round" vector-effect="non-scaling-stroke">INTERGERACIONAIS</text>
<rect x="0" y="1754.8" width="2560" height="57" fill="#525892"/>
<text transform="matrix(0.2049 0 0 0.2095 233.55 1790.75)" font-size="100" fill="#fff" stroke="#fff" stroke-width="0.5" stroke-linejoin="round" vector-effect="non-scaling-stroke">SECRETARIA DA FAMÍLIA, CIDADANIA E SEGURANÇA ALIMENTAR</text>
<path d="M-5 1623H208.5A13 13 0 0 1 221.5 1636V1796A13 13 0 0 1 208.5 1809H-5Z" fill="#fff"/>
<g transform="translate(60 1645) scale(0.0585)">
<g fill="#176f33"><path d="M160 665L215 608L420 598L472 650L482 790L430 832L215 802L160 742Z"/><rect x="290" y="790" width="96" height="510" rx="30"/><path d="M175 1100L440 1088L492 1140L470 1202L300 1216L135 1285L232 1182Z"/><g transform="translate(1756 0) scale(-1 1)"><path d="M160 665L215 608L420 598L472 650L482 790L430 832L215 802L160 742Z"/><rect x="290" y="790" width="96" height="510" rx="30"/><path d="M175 1100L440 1088L492 1140L470 1202L300 1216L135 1285L232 1182Z"/></g></g>
<path d="M215 640L400 632M330 830V1080M1541 640L1356 632M1426 830V1080" stroke="#8fd0a0" stroke-width="14" fill="none" opacity="0.7"/>
<path d="M515 440H1240V1130Q1240 1210 1100 1215Q940 1222 878 1297Q815 1222 655 1215Q515 1210 515 1130Z" fill="#176f33"/>
<path d="M590 478H712V512H669V592H633V512H590ZM1045 478H1167V512H1124V592H1088V512H1045Z" fill="#f2fbf4"/>
<path d="M835 470L860 520L880 468L900 520L925 472L945 640L960 720L915 760L900 1120Q878 1150 858 1120L842 760L798 720L812 640Z" fill="#eef9f0"/>
<path d="M850 560L878 600L905 560" stroke="#176f33" stroke-width="14" fill="none"/>
<g fill="#e4f5e8"><path d="M842 852Q700 822 640 732Q590 660 565 608Q642 620 722 700Q792 770 852 792Z"/><g transform="translate(1756 0) scale(-1 1)"><path d="M842 852Q700 822 640 732Q590 660 565 608Q642 620 722 700Q792 770 852 792Z"/></g></g>
<g transform="translate(690 1050)"><circle r="88" fill="none" stroke="#eef9f0" stroke-width="36" stroke-dasharray="30 25"/><circle r="70" fill="#eef9f0"/><circle r="48" fill="#176f33"/><path d="M-48 0H48M0 -48V48" stroke="#eef9f0" stroke-width="16"/><circle r="16" fill="#eef9f0"/></g>
<g transform="translate(1067 1050)"><circle r="88" fill="none" stroke="#eef9f0" stroke-width="36" stroke-dasharray="30 25"/><circle r="70" fill="#eef9f0"/><circle r="48" fill="#176f33"/><path d="M-48 0H48M0 -48V48" stroke="#eef9f0" stroke-width="16"/><circle r="16" fill="#eef9f0"/></g>
<g fill="none" stroke="#176f33" stroke-linecap="round">
<path stroke-width="44" d="M575 400Q878 330 1180 400"/>
<path stroke-width="20" d="M560 380L480 250M1195 380L1275 250M640 350Q690 260 690 200M1115 350Q1067 260 1067 200M878 330V160M600 370Q740 230 878 300Q1015 230 1155 370M520 300Q700 260 878 250Q1060 260 1235 300"/>
<path stroke-width="26" d="M470 245L540 230M455 215L500 260M545 200L520 255M640 180H740M650 150V200M690 135V200M730 150V200M828 150H930M835 120V165M878 110V165M922 120V165M1015 180H1115M1027 150V200M1067 135V200M1105 150V200M1215 230L1287 245M1300 215L1255 260M1210 200L1237 255"/>
</g>
<path d="M600 395Q878 335 1155 395" stroke="#dff3e4" stroke-width="10" stroke-dasharray="26 40" fill="none"/>
<path d="M452 1285Q880 1425 1322 1275L1338 1392Q880 1565 466 1412Z" fill="#176f33"/>
<path d="M500 1372Q880 1492 1292 1356" stroke="#e8f7ec" stroke-width="50" stroke-dasharray="13 7" fill="none" opacity="0.85"/>
</g>
<text transform="matrix(0.0911 0 0 0.0844 49.4 1745.3)" font-size="100" fill="#2e2e2e" letter-spacing="-1.39">PREFEITURA DO TRABALHO</text>
<g transform="translate(0.8 1.4)"><text transform="matrix(0.4012 0 0 0.4335 25.4 1779.5)" font-size="100" fill="#0a4d22" stroke="#0a4d22" stroke-width="4.2" stroke-linejoin="round" vector-effect="non-scaling-stroke">OSASCO</text></g>
<text transform="matrix(0.4012 0 0 0.4335 25.4 1779.5)" font-size="100" fill="url(#og)" stroke="url(#og)" stroke-width="4.2" stroke-linejoin="round" vector-effect="non-scaling-stroke">OSASCO</text>
<text transform="matrix(0.1603 0 0 0.1338 48.05 1795.15)" font-size="100" fill="#5e5e5e" stroke="#5e5e5e" stroke-width="0.7" stroke-linejoin="round" vector-effect="non-scaling-stroke">cidade da família</text>
</g>
</svg>
</body></html>
